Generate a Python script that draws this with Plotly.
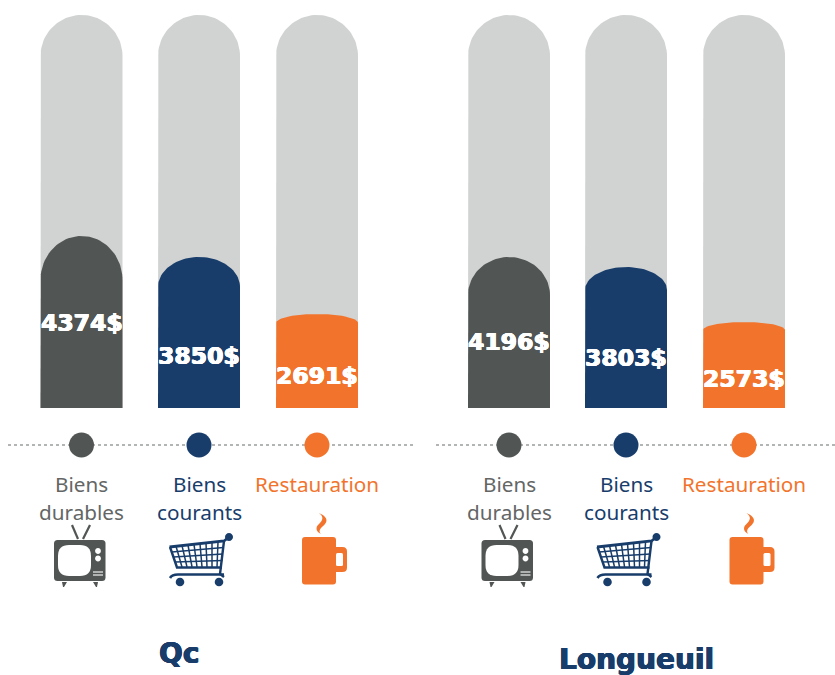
import math
import re
import plotly.graph_objects as go

# ---- data ----
cities = ["Qc", "Longueuil"]
categories = ["Biens durables", "Biens courants", "Restauration"]
values_qc = [4374, 3850, 2691]
values_longueuil = [4196, 3803, 2573]
# drawn fill heights as they appear in the picture (not proportional to the labels)
levels_qc = [172, 151, 94]
levels_longueuil = [151, 141, 86]
track_level = 393

# ---- style / layout ----
GREY, NAVY, ORANGE, TRACK = "#515554", "#183d6b", "#f2742c", "#d1d3d2"
TEXTGREY = "#636665"
colors = [GREY, NAVY, ORANGE]
label_colors = [TEXTGREY, NAVY, ORANGE]
W, H, BASE = 835, 675, 408
HALF = 41
centers_qc = [81.5, 199, 317]
centers_lg = [509, 626, 744]
caps_qc = [44, 30, 9]
caps_lg = [38, 23, 8]
value_y_qc = [323, 356, 376]
value_y_lg = [342, 358, 379]
VALUE_FONT = "DejaVu Sans"
LABEL_FONT = "Noto Sans"


def py(y):
    return BASE - y


def outline(cx, level, cap):
    xs = [cx - HALF, cx - HALF]
    ys = [0, level - cap]
    for i in range(1, 48):
        a = math.pi - math.pi * i / 48
        xs.append(cx + HALF * math.cos(a))
        ys.append(level - cap + cap * math.sin(a))
    xs += [cx + HALF, cx + HALF, cx - HALF]
    ys += [level - cap, 0, 0]
    return xs, ys


def svg(path, dx=0.0):
    """Turn an absolute M/L/C/Q/Z path in picture units into axis units."""
    tokens = re.findall(r"[MLCQZ]|-?\d+\.?\d*", path)
    out, is_x = [], True
    for t in tokens:
        if t in "MLCQZ":
            out.append(t)
            is_x = True
        else:
            v = float(t)
            out.append(str(v + dx) if is_x else str(py(v)))
            is_x = not is_x
    return " ".join(out)


def rrect(x0, y0, x1, y1, r):
    return (f"M {x0+r} {y0} L {x1-r} {y0} Q {x1} {y0} {x1} {y0+r} L {x1} {y1-r} "
            f"Q {x1} {y1} {x1-r} {y1} L {x0+r} {y1} Q {x0} {y1} {x0} {y1-r} "
            f"L {x0} {y0+r} Q {x0} {y0} {x0+r} {y0} Z")


def circle(cx, cy, r):
    k = 0.5523 * r
    return (f"M {cx-r} {cy} C {cx-r} {cy-k} {cx-k} {cy-r} {cx} {cy-r} "
            f"C {cx+k} {cy-r} {cx+r} {cy-k} {cx+r} {cy} "
            f"C {cx+r} {cy+k} {cx+k} {cy+r} {cx} {cy+r} "
            f"C {cx-k} {cy+r} {cx-r} {cy+k} {cx-r} {cy} Z")


shapes = []


def fill_shape(path, color, dx):
    shapes.append(dict(type="path", path=svg(path, dx), xref="x", yref="y",
                       fillcolor=color, line=dict(width=0), layer="above"))


def stroke_shape(path, color, width, dx):
    shapes.append(dict(type="path", path=svg(path, dx), xref="x", yref="y",
                       line=dict(color=color, width=width), layer="above"))


def tv(dx):
    stroke_shape("M 72 525 L 78 539", GREY, 2.2, dx)
    stroke_shape("M 90 525 L 83 539", GREY, 2.2, dx)
    fill_shape(rrect(54, 540, 105.5, 581, 3.5), GREY, dx)
    fill_shape("M 58 556 Q 58 545 69 545 L 80 545 Q 91 545 91 556 L 91 565 Q 91 576 80 576 "
               "L 69 576 Q 58 576 58 565 Z", "#ffffff", dx)
    fill_shape(circle(98, 551, 2.9), "#ffffff", dx)
    fill_shape(circle(98, 558.5, 2.9), "#ffffff", dx)
    stroke_shape("M 93 572 L 103 572", "#ffffff", 1.1, dx)
    stroke_shape("M 93 575 L 103 575", "#ffffff", 1.1, dx)
    fill_shape("M 62 582 L 67 582 L 64 587 L 63 587 Z", GREY, dx)
    fill_shape("M 93 582 L 98 582 L 97 587 L 96 587 Z", GREY, dx)


def cart(dx):
    stroke_shape("M 169.5 547 L 224 541 L 229 537", NAVY, 2.8, dx)
    stroke_shape("M 170 547 L 177 567.5 L 222 567.5", NAVY, 2.4, dx)
    stroke_shape("M 224 541 L 220 574 L 224 577", NAVY, 2.4, dx)
    fill_shape(circle(229, 537, 4.0), NAVY, dx)
    # basket grid
    for i in range(1, 9):
        t = i / 9
        xt, yt = 170 + 54 * t, 547 - 6 * t
        xb, yb = 177 + 45 * t, 567
        stroke_shape(f"M {xt:.1f} {yt:.1f} L {xb:.1f} {yb:.1f}", NAVY, 1.5, dx)
    for i in range(1, 4):
        t = i / 4
        xl, yl = 170 + 7 * t, 547 + 20 * t
        xr, yr = 224 - 2 * t, 541 + 26 * t
        stroke_shape(f"M {xl:.1f} {yl:.1f} L {xr:.1f} {yr:.1f}", NAVY, 1.5, dx)
    stroke_shape("M 170 578 Q 172 574.5 178 574.5 L 224 574.5", NAVY, 2.6, dx)
    fill_shape(circle(180, 582, 4.3), NAVY, dx)
    fill_shape(circle(219, 582, 4.3), NAVY, dx)


def mug(dx):
    fill_shape(rrect(302, 537, 336, 584.5, 3), ORANGE, dx)
    fill_shape(rrect(330, 547, 347, 572, 4.5), ORANGE, dx)
    fill_shape(rrect(336, 553, 343, 566, 1.5), "#ffffff", dx)
    fill_shape("M 319 513 C 330 518 327 523 322 527 C 319 530 319 532 321 534 "
               "C 316 532 315 527 319 524 C 323 520 324 517 319 513 Z", ORANGE, dx)


fig = go.Figure()
annotations = []


def text(x, y, s, size, color, family=LABEL_FONT, bold=False, heavy=False):
    font = dict(size=size, color=color, family=family)
    if heavy:
        font["shadow"] = (f"0.6px 0 0 {color}, -0.6px 0 0 {color}, "
                          f"0 0.3px 0 {color}, 0 -0.3px 0 {color}")
    annotations.append(dict(
        x=x, y=py(y), xref="x", yref="y", text=f"<b>{s}</b>" if bold else s,
        showarrow=False, xanchor="center", yanchor="middle", font=font))


for centers, levels, caps, values, value_y, (x0, x1) in [
    (centers_qc, levels_qc, caps_qc, values_qc, value_y_qc, (8, 414)),
    (centers_lg, levels_longueuil, caps_lg, values_longueuil, value_y_lg, (436, 835)),
]:
    fig.add_trace(go.Scatter(x=[x0, x1], y=[py(445), py(445)], mode="lines",
                             line=dict(color="#9a9c9c", width=1.3, dash="3px,3px"),
                             hoverinfo="skip"))
    for c, lvl, cap, val, vy, col, cat in zip(centers, levels, caps, values, value_y, colors, categories):
        tx, ty = outline(c, track_level, HALF)
        fig.add_trace(go.Scatter(x=tx, y=ty, mode="lines", fill="toself", fillcolor=TRACK,
                                 line=dict(width=0, color=TRACK), hoverinfo="skip"))
        fx, fy = outline(c, lvl, cap)
        fig.add_trace(go.Scatter(x=fx, y=fy, mode="lines", fill="toself", fillcolor=col,
                                 line=dict(width=0, color=col), name=cat, hoverinfo="skip"))
        text(c, vy, f"{val}$", 23.5, "#ffffff", VALUE_FONT, True, True)
    fig.add_trace(go.Scatter(x=centers, y=[py(445)] * 3, mode="markers",
                             marker=dict(size=25, color=colors, line=dict(width=0)),
                             hoverinfo="skip"))
    text(centers[0], 484, "Biens", 20.7, label_colors[0])
    text(centers[0], 512, "durables", 20.7, label_colors[0])
    text(centers[1], 484, "Biens", 20.7, label_colors[1])
    text(centers[1], 512, "courants", 20.7, label_colors[1])
    text(centers[2], 484, categories[2], 20.7, label_colors[2])

for dx in (0, 427.5):
    tv(dx)
    cart(dx)
    mug(dx)

text(179, 653, cities[0], 28, NAVY, VALUE_FONT, True, True)
text(636, 659, cities[1], 28, NAVY, VALUE_FONT, True, True)

fig.update_layout(
    width=W, height=H, margin=dict(l=0, r=0, t=0, b=0), showlegend=False,
    paper_bgcolor="#ffffff", plot_bgcolor="#ffffff",
    xaxis=dict(range=[0, W], visible=False, fixedrange=True),
    yaxis=dict(range=[BASE - H, BASE], visible=False, fixedrange=True),
    shapes=shapes, annotations=annotations,
)
fig.write_html("out.html", config=dict(displayModeBar=False),
               post_script="document.body.style.margin='0';")
